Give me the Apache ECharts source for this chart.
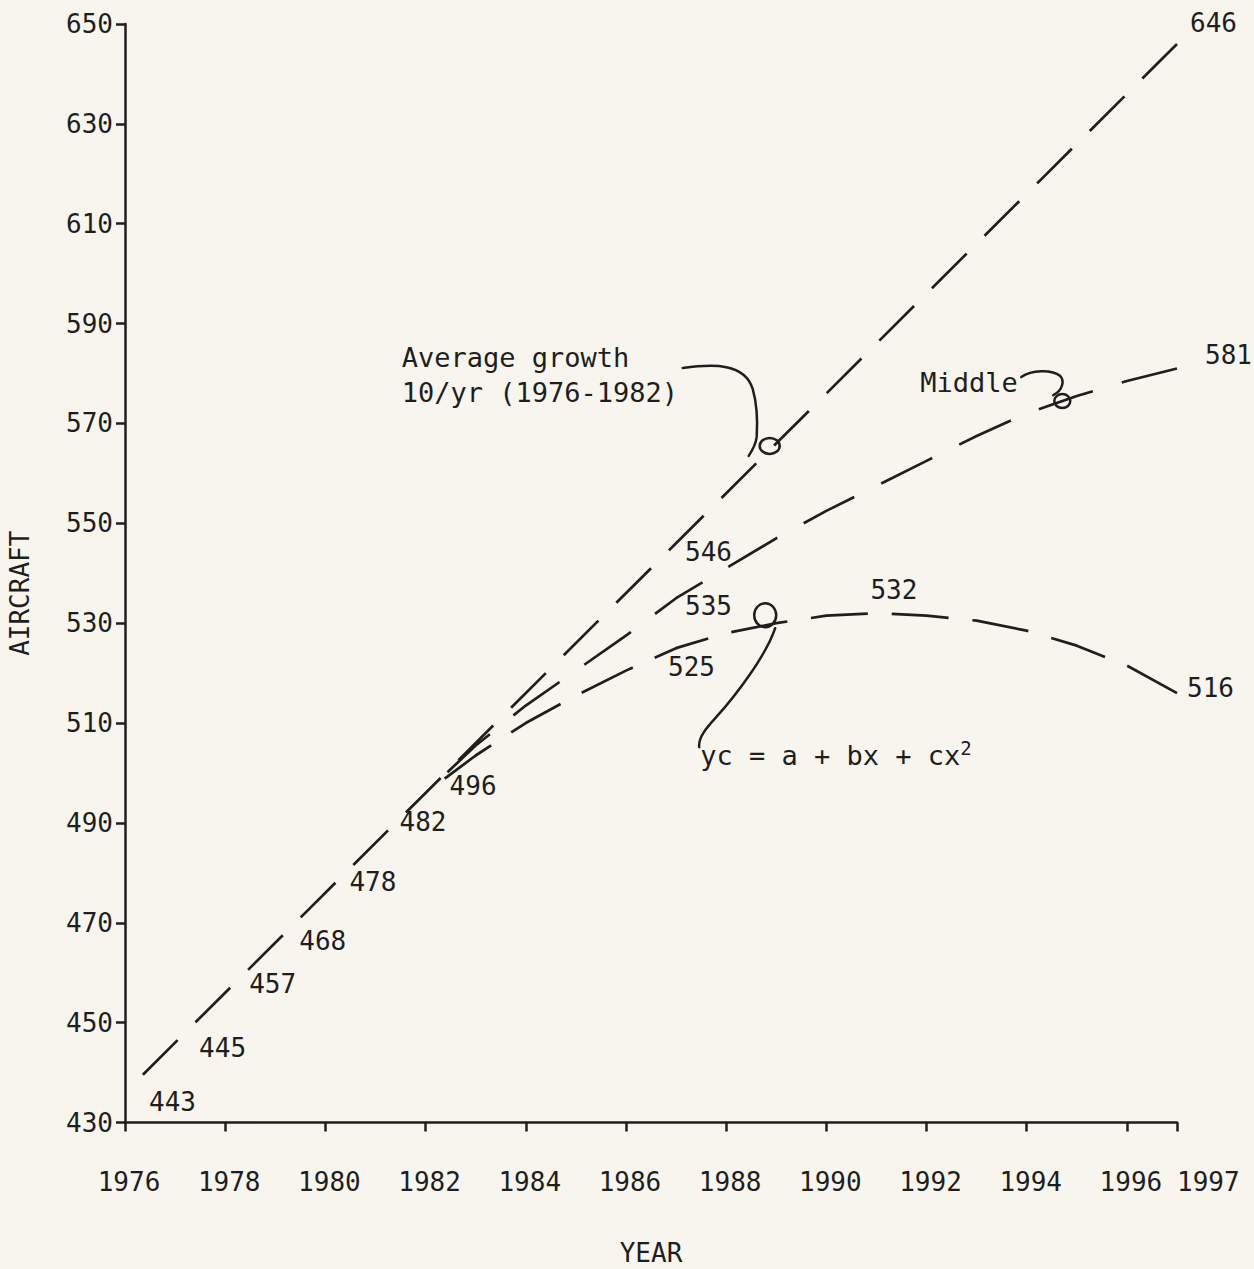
<!DOCTYPE html>
<html>
<head>
<meta charset="utf-8">
<script src="https://cdn.jsdelivr.net/npm/echarts@6/dist/echarts.min.js"></script>
<style>
html,body{margin:0;padding:0;background:#f7f5ee;}
#chart{width:1254px;height:1269px;}
</style>
</head>
<body>
<div id="chart"></div>
<script>
// ---------- data ----------
const histYears  = [1976, 1977, 1978, 1979, 1980, 1981, 1982];
const histValues = [443, 445, 457, 468, 478, 482, 496];

const avgYears  = [1976, 1982, 1987, 1997];
const avgValues = [436, 496, 546, 646];

const projYears    = [1982, 1983, 1984, 1985, 1986, 1987, 1988, 1989, 1990, 1991, 1992, 1993, 1994, 1995, 1996, 1997];
const middleValues = [496, 505.5, 513.5, 520.5, 527.5, 535, 541, 547, 552.5, 557.5, 562.5, 567.5, 572, 575.5, 578.5, 581];
const quadValues   = [496, 503.5, 510, 515.5, 520.5, 525, 528, 530, 531.5, 532, 531.5, 530.5, 528.5, 525.5, 521.5, 516];

const xTickYears  = [1976, 1978, 1980, 1982, 1984, 1986, 1988, 1990, 1992, 1994, 1996, 1997];
const yTickValues = [430, 450, 470, 490, 510, 530, 550, 570, 590, 610, 630, 650];

// ---------- layout / style (not data) ----------
const INK  = '#1e1e1e';
const FONT = '"DejaVu Sans Mono", monospace';
const histLabelNudge = [44, 0, -4, 8, -1, -41, -7];
const avgLabelOffsets    = {1987: [4, 9],   1997: [8, -21]};
const middleLabelOffsets = {1987: [4, 8],   1997: [23, -14]};
const quadLabelOffsets   = {1987: [-13, 19], 1991: [-11, -23], 1997: [5, -5]};

function interp(xs, ys, x) {
  for (let i = 0; i < xs.length - 1; i++) {
    if (x >= xs[i] && x <= xs[i + 1]) {
      const t = (x - xs[i]) / (xs[i + 1] - xs[i]);
      return ys[i] + t * (ys[i + 1] - ys[i]);
    }
  }
  return ys[ys.length - 1];
}

function lineData(years, values, offsets) {
  return years.map((y, i) => {
    const item = {value: [y, values[i]]};
    if (offsets[y]) item.label = {show: true, offset: offsets[y]};
    return item;
  });
}

function shift(d, ax, ay) {
  let i = 0;
  return d.replace(/-?\d+(\.\d+)?/g, m => (parseFloat(m) + (i++ % 2 === 0 ? ax : ay)).toFixed(1));
}
function ellipse(cx, cy, rx, ry) {
  const k = 0.5523;
  return `M ${cx + rx} ${cy} C ${cx + rx} ${cy + k * ry} ${cx + k * rx} ${cy + ry} ${cx} ${cy + ry} ` +
         `C ${cx - k * rx} ${cy + ry} ${cx - rx} ${cy + k * ry} ${cx - rx} ${cy} ` +
         `C ${cx - rx} ${cy - k * ry} ${cx - k * rx} ${cy - ry} ${cx} ${cy - ry} ` +
         `C ${cx + k * rx} ${cy - ry} ${cx + rx} ${cy - k * ry} ${cx + rx} ${cy}`;
}

const annotations = [
  {
    year: 1988.85, xs: avgYears, ys: avgValues,
    text: 'Average growth\n10/yr (1976-1982)', textPos: [-367, -111], lineHeight: 35,
    leader: 'M -86 -83 C -55 -87 -24 -88 -16 -62 C -12 -48 -11 -30 -12 -14 C -13 -6 -16 -1 -20 5',
    loop: [1, -5, 10, 8]
  },
  {
    year: 1994.65, xs: projYears, ys: middleValues,
    text: 'Middle', textPos: [-139, -35], lineHeight: 30,
    leader: 'M -38 -25 C -28 -32 -8 -33 1 -26 C 5 -22 4 -12 -6 -7',
    loop: [3, -1, 8, 7]
  },
  {
    year: 1988.8, xs: projYears, ys: quadValues,
    text: '{m|yc = a + bx + cx}{s|2}', textPos: [-66, 113], lineHeight: 34,
    rich: {
      m: {fontFamily: FONT, fontSize: 27, lineHeight: 34, fill: INK, color: INK},
      s: {fontFamily: FONT, fontSize: 19, lineHeight: 20, verticalAlign: 'top', fill: INK, color: INK}
    },
    leader: 'M 9 3 C 0 30 -30 70 -50 92 C -60 103 -68 112 -67 122',
    loop: [-1, -10, 11, 12]
  }
];

const labelBase = {
  show: false, position: 'right', fontFamily: FONT, fontSize: 26, color: INK, opacity: 1,
  formatter: p => String(p.value[1])
};

const chart = echarts.init(document.getElementById('chart'), null, {renderer: 'svg'});
chart.setOption({
  backgroundColor: '#f7f5ee',
  animation: false,
  grid: {left: 125, right: 77, top: 24, bottom: 146.5, containLabel: false, outerBoundsMode: 'none'},
  xAxis: {
    type: 'value', min: 1976, max: 1997, interval: 2,
    axisLine: {show: true, lineStyle: {color: INK, width: 2.5}},
    axisTick: {show: true, length: 9, lineStyle: {color: INK, width: 2.5}},
    axisLabel: {
      margin: 46, fontFamily: FONT, fontSize: 26, color: INK,
      showMinLabel: true, showMaxLabel: true, alignMaxLabel: 'left',
      rich: {
        n: {fontFamily: FONT, fontSize: 26, color: INK, padding: [0, 0, 0, 8]},
        e: {fontFamily: FONT, fontSize: 26, color: INK}
      },
      formatter: v => {
        if (xTickYears.indexOf(v) < 0) return '';
        return v === 1997 ? '{e|' + v + '}' : '{n|' + v + '}';
      }
    },
    splitLine: {show: false},
    name: 'YEAR', nameLocation: 'middle', nameGap: 117,
    nameTextStyle: {fontFamily: FONT, fontSize: 26, color: INK}
  },
  yAxis: {
    type: 'value', min: 430, max: 650, interval: 20,
    axisLine: {show: true, lineStyle: {color: INK, width: 2.5}},
    axisTick: {show: true, length: 9, lineStyle: {color: INK, width: 2.5}},
    axisLabel: {
      margin: 12, fontFamily: FONT, fontSize: 26, color: INK,
      showMinLabel: true, showMaxLabel: true,
      formatter: v => (yTickValues.indexOf(v) >= 0 ? String(v) : '')
    },
    splitLine: {show: false},
    name: 'AIRCRAFT', nameLocation: 'middle', nameRotate: 90, nameGap: 92,
    nameTextStyle: {fontFamily: FONT, fontSize: 26, color: INK, padding: [0, 40, 0, 0]}
  },
  series: [
    {
      name: 'Average growth', type: 'line', silent: true,
      data: lineData(avgYears, avgValues, avgLabelOffsets),
      symbol: 'circle', symbolSize: 0.01, itemStyle: {color: INK},
      lineStyle: {color: INK, width: 2.7, type: [49, 25.27], dashOffset: 49},
      label: labelBase
    },
    {
      name: 'Middle', type: 'line', silent: true,
      data: lineData(projYears, middleValues, middleLabelOffsets),
      symbol: 'circle', symbolSize: 0.01, itemStyle: {color: INK},
      lineStyle: {color: INK, width: 2.7, type: [57, 30.14], dashOffset: 57},
      label: labelBase
    },
    {
      name: 'yc = a + bx + cx2', type: 'line', silent: true,
      data: lineData(projYears, quadValues, quadLabelOffsets),
      symbol: 'circle', symbolSize: 0.01, itemStyle: {color: INK},
      lineStyle: {color: INK, width: 2.7, type: [57, 23.96], dashOffset: 57},
      label: labelBase
    },
    {
      name: 'Actual', type: 'scatter', silent: true,
      data: histYears.map((y, i) => ({value: [y, histValues[i]], label: {offset: [19, histLabelNudge[i]]}})),
      symbolSize: 0.01, itemStyle: {color: INK, opacity: 1},
      label: Object.assign({}, labelBase, {show: true})
    },
    {
      name: 'annotations', type: 'custom', silent: true, clip: false,
      coordinateSystem: 'cartesian2d',
      encode: {x: 0, y: 1},
      data: annotations.map((a, i) => [a.year, interp(a.xs, a.ys, a.year), i]),
      renderItem: function (params, api) {
        const a = annotations[api.value(2)];
        const p = api.coord([api.value(0), api.value(1)]);
        const ax = p[0], ay = p[1];
        const lineSt = {stroke: INK, lineWidth: 2.5, fill: 'none', lineCap: 'round'};
        const textStyle = {
          text: a.text, fontFamily: FONT, fontSize: 27, fill: INK,
          lineHeight: a.lineHeight, verticalAlign: 'top', align: 'left'
        };
        if (a.rich) textStyle.rich = a.rich;
        return {
          type: 'group',
          children: [
            {type: 'path', shape: {pathData: shift(a.leader, ax, ay)}, style: lineSt},
            {type: 'path', shape: {pathData: shift(ellipse(a.loop[0], a.loop[1], a.loop[2], a.loop[3]), ax, ay)}, style: lineSt},
            {type: 'text', x: ax + a.textPos[0], y: ay + a.textPos[1], style: textStyle}
          ]
        };
      }
    }
  ]
});
</script>
</body>
</html>
